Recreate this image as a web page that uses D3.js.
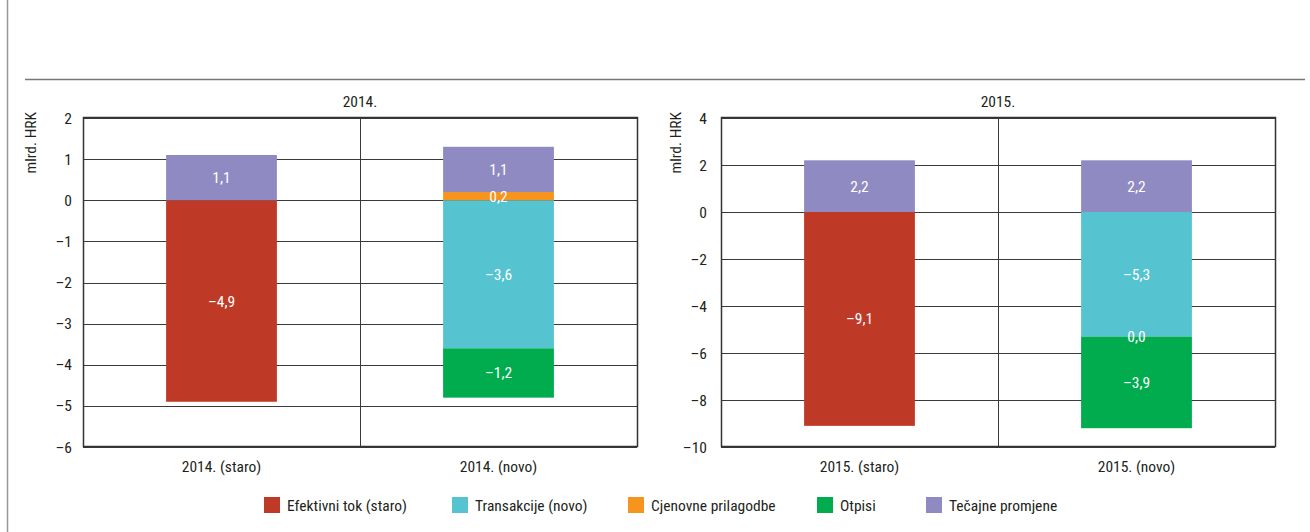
<!DOCTYPE html>
<html><head><meta charset="utf-8">
<script src="https://cdn.jsdelivr.net/npm/d3@7"></script>
<style>
body{margin:0;background:#fff;}
text{font-family:"Liberation Sans Narrow","Roboto Condensed","Arial Narrow",sans-serif;}
</style></head>
<body><svg id="c" width="1310" height="532"></svg>
<script>
// ---- data ----
const seriesNames = ["Efektivni tok (staro)","Transakcije (novo)","Cjenovne prilagodbe","Otpisi","Tečajne promjene"];
const seriesColors = ["#BE3A26","#56C4D0","#F7941D","#00AC4E","#908AC2"];
const panelTitles = ["2014.","2015."];
const categories2014 = ["2014. (staro)","2014. (novo)"];
const categories2015 = ["2015. (staro)","2015. (novo)"];
// values per series: [staro, novo]; null = no segment
const efektivni2014 = [-4.9, null];
const transakcije2014 = [null, -3.6];
const cjenovne2014 = [null, 0.2];
const otpisi2014 = [null, -1.2];
const tecajne2014 = [1.1, 1.1];
const efektivni2015 = [-9.1, null];
const transakcije2015 = [null, -5.3];
const cjenovne2015 = [null, 0.0];
const otpisi2015 = [null, -3.9];
const tecajne2015 = [2.2, 2.2];
const ticks2014 = [2,1,0,-1,-2,-3,-4,-5,-6];
const ticks2015 = [4,2,0,-2,-4,-6,-8,-10];
const yLabel = "mlrd. HRK";

const FS = 15.5;
const svg = d3.select("#c");
// outer frame lines
svg.append("line").attr("x1",7.5).attr("x2",7.5).attr("y1",0).attr("y2",532).attr("stroke","#999").attr("stroke-width",1.5);
svg.append("line").attr("x1",25).attr("x2",1305).attr("y1",79.5).attr("y2",79.5).attr("stroke","#777").attr("stroke-width",1.5);

const MINUS = "\u2013";
const fmt = v => (v<0?MINUS:"") + Math.abs(v).toFixed(1).replace(".",",");

function panel(opts){
  const {x0,x1,title,cats,series,ticks,labelGap,yTitleX} = opts;
  const top=118, bottom=447;
  const g = svg.append("g");
  const x = d3.scaleBand().domain(cats).range([x0,x1]).paddingInner(0.6).paddingOuter(0.3);
  const y = d3.scaleLinear().domain([d3.min(ticks),d3.max(ticks)]).range([bottom,top]);
  // grid
  g.selectAll(".grid").data(ticks).join("line")
    .attr("x1",x0).attr("x2",x1).attr("y1",d=>Math.round(y(d))+0.5).attr("y2",d=>Math.round(y(d))+0.5)
    .attr("stroke","#3a3a3a").attr("stroke-width",1);
  // divider
  const mid=(x0+x1)/2;
  g.append("line").attr("x1",Math.round(mid)+0.5).attr("x2",Math.round(mid)+0.5).attr("y1",top).attr("y2",bottom).attr("stroke","#3a3a3a");
  // stacked bars
  const segs=[];
  cats.forEach((c,ci)=>{
    let pos=0, neg=0;
    series.forEach((s,si)=>{
      const v=s[ci];
      if(v===null||v===undefined) return;
      let a,b;
      if(v>0){a=pos;b=pos+v;pos=b;} else {a=neg+v;b=neg;neg=a;}
      segs.push({c,si,v,a,b});
    });
  });
  g.selectAll(".bar").data(segs).join("rect")
    .attr("x",d=>x(d.c)).attr("width",x.bandwidth())
    .attr("y",d=>y(d.b)).attr("height",d=>y(d.a)-y(d.b))
    .attr("fill",d=>seriesColors[d.si]);
  g.selectAll(".lbl").data(segs).join("text")
    .attr("x",d=>x(d.c)+x.bandwidth()/2).attr("y",d=>y((d.a+d.b)/2)+5.5)
    .attr("text-anchor","middle").attr("fill","#fff").attr("font-size",FS)
    .text(d=>fmt(d.v));
  // frame
  g.append("rect").attr("x",x0+0.5).attr("y",top-0.5).attr("width",x1-x0).attr("height",bottom-top)
    .attr("fill","none").attr("stroke","#333").attr("stroke-width",1.5);
  // y ticks
  g.selectAll(".yt").data(ticks).join("text")
    .attr("x",x0-labelGap).attr("y",d=>y(d)+5.5).attr("text-anchor","end")
    .attr("font-size",FS).attr("fill","#231f20").text(d=>(d<0?MINUS:"")+Math.abs(d));
  // x labels
  g.selectAll(".xt").data(cats).join("text")
    .attr("x",d=>x(d)+x.bandwidth()/2).attr("y",472).attr("text-anchor","middle")
    .attr("font-size",FS).attr("fill","#231f20").text(d=>d);
  // title
  g.append("text").attr("x",mid).attr("y",107).attr("text-anchor","middle").attr("font-size",FS).attr("fill","#231f20").text(title);
  // y title
  g.append("text").attr("transform",`translate(${yTitleX},112) rotate(-90)`).attr("text-anchor","end")
    .attr("font-size",FS).attr("fill","#231f20").text(yLabel);
}

panel({x0:83,x1:637,title:panelTitles[0],cats:categories2014,
  series:[efektivni2014,transakcije2014,cjenovne2014,otpisi2014,tecajne2014],ticks:ticks2014,labelGap:11,yTitleX:36});
panel({x0:721,x1:1275,title:panelTitles[1],cats:categories2015,
  series:[efektivni2015,transakcije2015,cjenovne2015,otpisi2015,tecajne2015],ticks:ticks2015,labelGap:14,yTitleX:681});

// legend
const legendX=[264,452,628,817,926];
const lg=svg.append("g");
seriesNames.forEach((n,i)=>{
  lg.append("rect").attr("x",legendX[i]).attr("y",497).attr("width",16).attr("height",16).attr("fill",seriesColors[i]);
  lg.append("text").attr("x",legendX[i]+23).attr("y",511).attr("font-size",FS).attr("fill","#231f20").text(n);
});
</script></body></html>
